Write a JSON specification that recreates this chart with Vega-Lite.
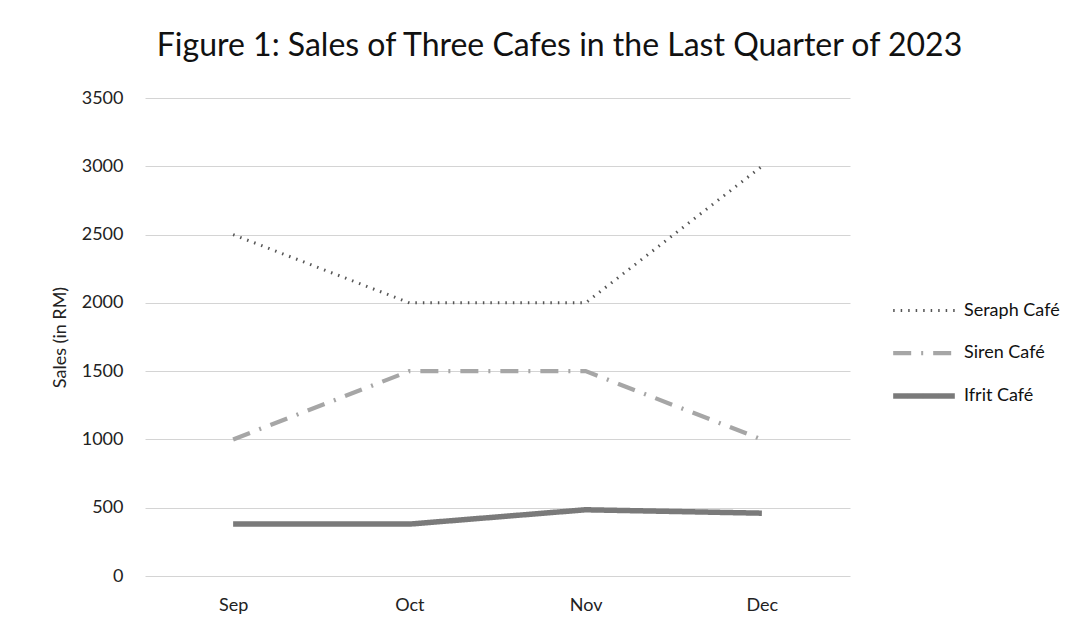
{
  "$schema": "https://vega.github.io/schema/vega-lite/v6.json",
  "autosize": "none",
  "width": 705,
  "height": 478,
  "padding": {"left": 145, "top": 98, "right": 242, "bottom": 56},
  "background": "white",
  "title": {
    "text": "Figure 1: Sales of Three Cafes in the Last Quarter of 2023",
    "font": "Lato",
    "fontSize": 32,
    "fontWeight": "normal",
    "color": "#111111",
    "anchor": "middle",
    "offset": 26,
    "dx": 62
  },
  "data": {
    "values": [
      {"month": "Sep", "cafe": "Seraph Café", "sales": 2500},
      {"month": "Oct", "cafe": "Seraph Café", "sales": 2000},
      {"month": "Nov", "cafe": "Seraph Café", "sales": 2000},
      {"month": "Dec", "cafe": "Seraph Café", "sales": 3000},
      {"month": "Sep", "cafe": "Siren Café", "sales": 1000},
      {"month": "Oct", "cafe": "Siren Café", "sales": 1500},
      {"month": "Nov", "cafe": "Siren Café", "sales": 1500},
      {"month": "Dec", "cafe": "Siren Café", "sales": 1000},
      {"month": "Sep", "cafe": "Ifrit Café", "sales": 380},
      {"month": "Oct", "cafe": "Ifrit Café", "sales": 380},
      {"month": "Nov", "cafe": "Ifrit Café", "sales": 485},
      {"month": "Dec", "cafe": "Ifrit Café", "sales": 460}
    ]
  },
  "mark": {"type": "line"},
  "encoding": {
    "x": {
      "field": "month",
      "type": "ordinal",
      "sort": ["Sep", "Oct", "Nov", "Dec"],
      "scale": {"type": "point", "padding": 0.5},
      "axis": {
        "title": null,
        "labelAngle": 0,
        "labelFont": "Lato",
        "labelFontSize": 18,
        "labelColor": "#222222",
        "labelPadding": 20,
        "ticks": false,
        "domain": false,
        "grid": false
      }
    },
    "y": {
      "field": "sales",
      "type": "quantitative",
      "scale": {"domain": [0, 3500]},
      "axis": {
        "title": "Sales (in RM)",
        "titleFont": "Lato",
        "titleFontSize": 18,
        "titleFontWeight": "normal",
        "titleColor": "#222222",
        "titlePadding": 12,
        "values": [0, 500, 1000, 1500, 2000, 2500, 3000, 3500],
        "format": "d",
        "labelFont": "Lato",
        "labelFontSize": 18,
        "labelColor": "#222222",
        "labelPadding": 22,
        "ticks": false,
        "domain": false,
        "grid": true,
        "gridColor": "#d4d4d4",
        "gridWidth": 1
      }
    },
    "color": {
      "field": "cafe",
      "type": "nominal",
      "sort": ["Seraph Café", "Siren Café", "Ifrit Café"],
      "scale": {"domain": ["Seraph Café", "Siren Café", "Ifrit Café"], "range": ["#555555", "#a6a6a6", "#7a7a7a"]},
      "legend": {
        "title": null,
        "orient": "none",
        "legendX": 745,
        "legendY": 180,
        "symbolType": "stroke",
        "symbolSize": 3800,
        "labelFont": "Lato",
        "labelFontSize": 18,
        "labelColor": "#111111",
        "rowPadding": 0,
        "labelOffset": 6
      }
    },
    "strokeDash": {
      "field": "cafe",
      "type": "nominal",
      "sort": ["Seraph Café", "Siren Café", "Ifrit Café"],
      "scale": {"domain": ["Seraph Café", "Siren Café", "Ifrit Café"], "range": [[1.5, 6], [18, 10, 2, 10], [1, 0]]}
    },
    "strokeWidth": {
      "field": "cafe",
      "type": "nominal",
      "sort": ["Seraph Café", "Siren Café", "Ifrit Café"],
      "scale": {"domain": ["Seraph Café", "Siren Café", "Ifrit Café"], "range": [3, 5.5, 4]},
      "legend": null
    }
  },
  "config": {"view": {"stroke": null}}
}
